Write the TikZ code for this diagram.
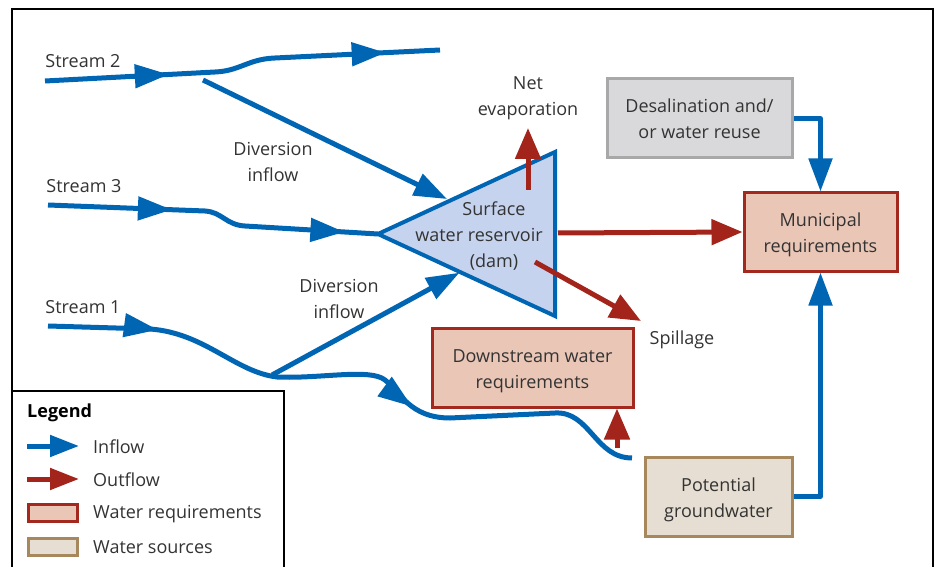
\documentclass[tikz,border=0pt]{standalone}
\usepackage{fontspec}
\setmainfont{Open Sans}
\usetikzlibrary{arrows.meta,decorations.markings,calc}
\definecolor{flowblue}{HTML}{0066B3}
\definecolor{flowred}{HTML}{A3241B}
\definecolor{resfill}{HTML}{C6D3EE}
\definecolor{reqfill}{HTML}{EAC6B7}
\definecolor{reqedge}{HTML}{A3281E}
\definecolor{srcfill}{HTML}{E6DED2}
\definecolor{srcedge}{HTML}{A6885C}
\definecolor{desfill}{HTML}{D9D9DC}
\definecolor{desedge}{HTML}{A8A8A8}
\definecolor{txtgray}{HTML}{333333}
\newcommand{\topstrut}{\rule{0pt}{19.5pt}}
\tikzset{
  lbl/.style={font=\fontsize{18}{26}\selectfont, text=txtgray, align=center, inner sep=0pt},
  boxbase/.style={rectangle, line width=3pt, lbl},
  reqbox/.style={boxbase, draw=reqedge, fill=reqfill},
  srcbox/.style={boxbase, draw=srcedge, fill=srcfill},
  desbox/.style={boxbase, draw=desedge, fill=desfill},
  bflow/.style={draw=flowblue, line width=5pt, line join=round},
  rflow/.style={draw=flowred, line width=5pt},
  btip/.style={-{Triangle[length=33pt,width=23pt]}},
  rtip/.style={-{Triangle[length=31pt,width=25pt]}},
  frameline/.style={draw=black, line width=1.2pt},
}
\begin{document}
\begin{tikzpicture}[x=1pt,y=-1pt]
\useasboundingbox (0,0) rectangle (938,567);
% frame
\draw[frameline] (12,567) -- (12,9) -- (933,9) -- (933,567);

% reservoir
\coordinate (rL) at (378,234);
\coordinate (rT) at (555,152);
\coordinate (rB) at (555,316);
\filldraw[fill=resfill, draw=flowblue, line width=4pt, line join=miter] (rL) -- (rT) -- (rB) -- cycle;
\node[lbl] (res) at (494,236) {Surface\\\hspace*{-30pt}water reservoir\\(dam)};

% labels
\node[lbl] (s2) at (83,61) {Stream 2};
\node[lbl] (s3) at (84,186) {Stream 3};
\node[lbl] (s1) at (83,307) {Stream 1};
\node[lbl] (div1) at (273,162) {Diversion\\inflow};
\node[lbl] (div2) at (339,299) {Diversion\\inflow};
\node[lbl] (evap) at (528,98) {Net\\evaporation};
\node[lbl] (spill) at (682,340) {Spillage};

% boxes
\node[desbox, minimum width=185pt, minimum height=79pt] (des) at (699.5,118.5) {Desalination and/\\or water reuse};
\node[reqbox, minimum width=153pt, minimum height=78pt] (mun) at (820.5,232) {\topstrut Municipal\\requirements};
\node[reqbox, minimum width=201pt, minimum height=79pt] (ds) at (532.5,367.5) {\topstrut Downstream water\\requirements};
\node[srcbox, minimum width=147pt, minimum height=79pt] (gw) at (718.5,496.5) {\topstrut Potential\\groundwater};

% stream coordinates
\coordinate (s2a) at (45,81);
\coordinate (s2b) at (440,50);
\coordinate (s3a) at (48,205);
\coordinate (s1a) at (48,326);
\coordinate (s1b) at (632,458);
\coordinate (d1a) at (203,80);
\coordinate (d2a) at (272,375);

% streams
\draw[bflow, postaction={decorate}, decoration={markings,
   mark=at position 124pt with {\arrow{Triangle[length=34pt,width=23pt]}},
   mark=at position 343pt with {\arrow{Triangle[length=34pt,width=23pt]}}}]
  (s2a) -- (215,72) .. controls (240,71) and (248,59) .. (275,58) -- (s2b);
\draw[bflow, postaction={decorate}, decoration={markings,
   mark=at position 124pt with {\arrow{Triangle[length=34pt,width=23pt]}},
   mark=at position 300pt with {\arrow{Triangle[length=34pt,width=23pt]}}}]
  (s3a) -- (205,211) .. controls (222,212) and (226,225) .. (245,226) -- (rL);
\draw[bflow, postaction={decorate}, decoration={markings,
   mark=at position 110pt with {\arrow{Triangle[length=34pt,width=23pt]}},
   mark=at position 386pt with {\arrow{Triangle[length=34pt,width=23pt]}}}]
  (s1a) -- (150,329) .. controls (205,333) and (235,372) .. (277,377)
  .. controls (320,379) and (370,368) .. (385,380)
  .. controls (400,392) and (410,418) .. (450,418) -- (555,413)
  .. controls (590,411) and (595,458) .. (s1b);
% diversions
\draw[bflow, btip] (d1a) -- ($(rL)!0.39!(rT)+(0,-3)$);
\draw[bflow, btip] (d2a) -- ($(rL)!0.46!(rB)+(0,1)$);

% blue supply connectors
\draw[bflow, btip] (des.east) -| (mun.north);
\draw[bflow, btip] (gw.east) -| (mun.south);

% red outflows
\coordinate (evapS) at (528,190);
\coordinate (evapT) at (528,128);
\draw[rflow, rtip] (evapS) -- (evapT);
\coordinate (resR) at (558,233);
\draw[rflow, rtip] (resR) -- (mun.west);
\coordinate (spS) at (535,262);
\coordinate (spT) at (641,321);
\draw[rflow, rtip] (spS) -- (spT);
\coordinate (dsup) at (617,448);
\draw[rflow, rtip] (dsup) -- (dsup |- ds.south);

% legend
\draw[frameline] (12,391) -- (284,391) -- (284,567);
\node[lbl, anchor=west, text=black, font=\fontsize{18}{26}\selectfont\bfseries] (leg) at (27,413) {Legend};
\coordinate (li1) at (27,446);
\coordinate (li2) at (79,446);
\draw[bflow, -{Triangle[length=29pt,width=21pt]}] (li1) -- (li2);
\node[lbl, anchor=west] (tin) at (93,447) {Inflow};
\coordinate (lo1) at (27,479);
\coordinate (lo2) at (79,479);
\draw[rflow, -{Triangle[length=29pt,width=21pt]}] (lo1) -- (lo2);
\node[lbl, anchor=west] (tout) at (93,480) {Outflow};
\node[reqbox, minimum width=49pt, minimum height=17pt] (lreq) at (53,513) {};
\node[lbl, anchor=west] (treq) at (93,514) {Water requirements};
\node[srcbox, minimum width=49pt, minimum height=17pt] (lsrc) at (53,546.5) {};
\node[lbl, anchor=west] (tsrc) at (93,547) {Water sources};
\end{tikzpicture}
\end{document}
